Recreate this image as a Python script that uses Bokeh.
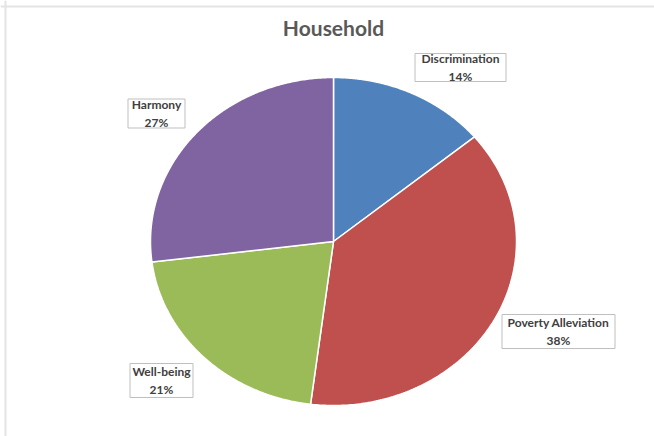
import numpy as np
from bokeh.plotting import figure
from bokeh.models import Range1d, Span, Label, ColumnDataSource
from bokeh.core.properties import value
from bokeh.embed import file_html
from bokeh.resources import INLINE

# ---- data ----
categories = ["Discrimination", "Poverty Alleviation", "Well-being", "Harmony"]
shares = [14, 38, 21, 27]
colors = ["#4F81BD", "#C0504D", "#9BBB59", "#8064A2"]
title_text = "Household"

# ---- layout (pixel space) ----
W, H = 654, 436
cx, cy = 333, 241
rx, ry = 183, 164
label_centers = [(460, 67), (558, 331), (161, 380), (156, 113)]
label_sizes = [(91, 28), (113, 34), (63, 34), (57, 29)]

p = figure(width=W, height=H, output_backend="svg", toolbar_location=None,
           x_range=Range1d(0, W), y_range=Range1d(H, 0),
           x_axis_type=None, y_axis_type=None, min_border=0,
           outline_line_color=None, background_fill_color="white",
           border_fill_color="white")
p.grid.visible = False

# frame lines
p.add_layout(Span(location=6, dimension="width", line_color="#E4E4E4", line_width=2))
p.add_layout(Span(location=5, dimension="height", line_color="#E4E4E4", line_width=2))

# pie slices (ellipse, clockwise from 12 o'clock)
total = float(sum(shares))
frac = np.array(shares) / total
ends = np.cumsum(frac)
starts = ends - frac
xs, ys = [], []
for s, e in zip(starts, ends):
    t = np.linspace(s, e, 200) * 2 * np.pi
    xs.append([cx] + list(cx + rx * np.sin(t)) + [cx])
    ys.append([cy] + list(cy - ry * np.cos(t)) + [cy])
p.patches(xs=xs, ys=ys, fill_color=colors, line_color="white", line_width=1.5)

# label boxes and text
pct = [f"{round(f * 100)}%" for f in frac]
src = ColumnDataSource(dict(
    x=[c[0] for c in label_centers], y=[c[1] for c in label_centers],
    w=[s[0] for s in label_sizes], h=[s[1] for s in label_sizes],
    t=[f"{c}\n{q}" for c, q in zip(categories, pct)]))
p.rect(x="x", y="y", width="w", height="h", source=src, fill_color="white",
       line_color="#BFBFBF", line_width=1)
p.text(x="x", y="y", text="t", source=src, text_align="center",
       text_baseline="middle", text_font=value("Lato"), text_font_style="bold",
       text_font_size="12px", text_color="#404040", text_line_height=1.15)

p.add_layout(Label(x=cx, y=27, text=title_text, text_align="center",
                   text_baseline="middle", text_font="Lato", text_font_style="bold",
                   text_font_size="21px", text_color="#595959"))

open("out.html", "w").write(file_html(p, INLINE))
